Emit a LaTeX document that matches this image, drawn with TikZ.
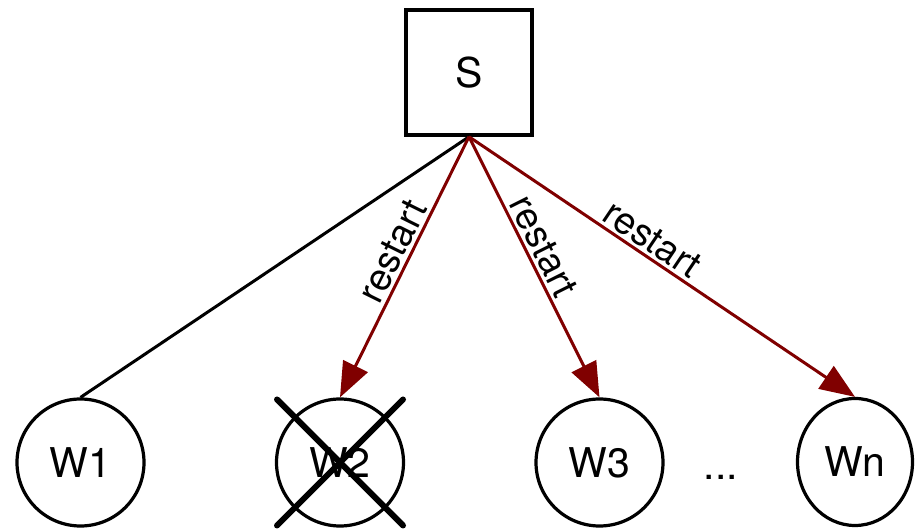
\documentclass[tikz,border=0pt]{standalone}
\usepackage{fontspec}
\setmainfont{TeX Gyre Heros}
\usetikzlibrary{arrows.meta,shapes.geometric}
\definecolor{darkred}{RGB}{128,0,0}
\begin{document}
\begin{tikzpicture}[x=1pt,y=1pt,
  worker/.style={circle,draw,line width=3.2pt,minimum size=127pt,inner sep=0pt,font=\fontsize{41}{41}\selectfont},
  server/.style={rectangle,draw,line width=3.5pt,minimum width=126pt,minimum height=125pt,inner sep=0pt,font=\fontsize{41}{41}\selectfont},
  link/.style={line width=3pt},
  restartarrow/.style={line width=3pt,draw=darkred,-{Triangle[length=35pt,width=27pt,fill=darkred]}},
  lbl/.style={sloped,above,inner sep=3pt,font=\fontsize{38}{38}\selectfont,text=black},
  crossline/.style={line width=6pt,line cap=round}
]
\useasboundingbox (0,0) rectangle (915,529);
\node[server] (S) at (469,456.5) {S};
\node[worker] (W1) at (80.5,66.5) {W1};
\node[worker] (W2) at (340,66.5) {W2};
\node[worker] (W3) at (599.5,66.5) {W3};
\node[worker,ellipse,minimum width=115pt,minimum height=127pt] (Wn) at (855,67) {Wn};
\node[font=\fontsize{41}{41}\selectfont,inner sep=0pt] (dots) at (721,52) {...};
\draw[link] (S.south) -- (W1.north);
\draw[restartarrow] (S.south) -- node[lbl,pos=0.47]{restart} (W2.north);
\draw[restartarrow] (S.south) -- node[lbl,pos=0.45]{restart} (W3.north);
\draw[restartarrow] (S.south) -- node[lbl,pos=0.45]{restart} (Wn.north);
\draw[crossline] ([shift={(-63,63)}]W2.center) -- ([shift={(63,-63)}]W2.center);
\draw[crossline] ([shift={(63,63)}]W2.center) -- ([shift={(-63,-63)}]W2.center);
\end{tikzpicture}
\end{document}
